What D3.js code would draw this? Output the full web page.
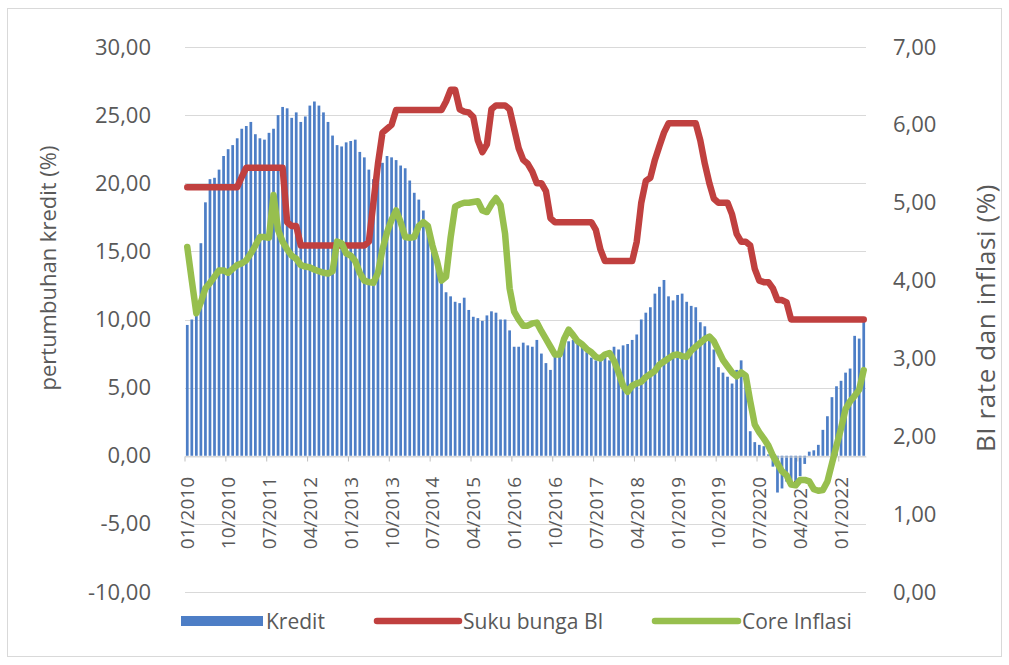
<!DOCTYPE html>
<html>
<head>
<meta charset="utf-8">
<script src="https://cdn.jsdelivr.net/npm/d3@7"></script>
<style>
  html, body { margin: 0; padding: 0; background: #ffffff; }
  svg { display: block; }
  text { font-family: "Open Sans", "Noto Sans", sans-serif; fill: #595959; }
</style>
</head>
<body>
<svg id="chart" width="1009" height="665"></svg>
<script>
// ---------------- DATA ----------------
const startYear = 2010;
const monthCount = 150; // 01/2010 .. 06/2022
const categories = [];
for (let k = 0; k < monthCount; k++) {
  const y = startYear + Math.floor(k / 12);
  const m = (k % 12) + 1;
  categories.push((m < 10 ? "0" + m : "" + m) + "/" + y);
}

// Pertumbuhan kredit (%), left axis
const kredit = [
  9.6, 10.0, 10.3, 15.6, 18.6, 20.3, 20.4, 21.0, 22.0, 22.5, 22.8, 23.3,   // 2010
  24.0, 24.2, 24.5, 23.6, 23.3, 23.2, 23.7, 24.0, 25.0, 25.6, 25.5, 24.8,  // 2011
  25.2, 24.5, 24.9, 25.7, 26.0, 25.7, 25.2, 24.5, 23.5, 22.8, 22.7, 23.0,  // 2012
  23.1, 23.2, 22.3, 21.9, 21.0, 20.3, 20.6, 21.5, 22.0, 21.9, 21.7, 21.3,  // 2013
  21.1, 20.2, 19.3, 18.8, 18.0, 16.5, 15.8, 14.5, 12.9, 12.0, 11.7, 11.3,  // 2014
  11.2, 11.6, 10.7, 10.2, 10.1, 9.9, 10.3, 10.6, 10.5, 10.0, 10.0, 9.2,    // 2015
  8.0, 8.0, 8.3, 8.1, 8.0, 8.5, 7.5, 6.8, 6.3, 7.4, 7.8, 8.2,              // 2016
  8.4, 8.5, 8.3, 8.0, 7.6, 7.2, 7.0, 7.1, 7.2, 7.0, 8.0, 7.8,              // 2017
  8.1, 8.2, 8.5, 8.9, 10.0, 10.5, 10.9, 11.9, 12.4, 12.9, 11.7, 11.4,      // 2018
  11.8, 11.9, 11.3, 11.0, 10.9, 9.8, 9.5, 8.7, 7.8, 6.5, 6.1, 5.8,         // 2019
  5.3, 6.3, 7.0, 5.7, 1.8, 1.0, 0.8, 0.7, 0.1, -0.8, -2.7, -2.4,           // 2020
  -1.9, -2.2, -2.0, -1.5, -0.6, 0.3, 0.4, 0.8, 1.9, 2.9, 4.3, 5.1,         // 2021
  5.5, 6.1, 6.4, 8.8, 8.6, 10.0                                            // 2022
];

// Suku bunga BI (%), right axis
const sukuBunga = [
  5.2, 5.2, 5.2, 5.2, 5.2, 5.2, 5.2, 5.2, 5.2, 5.2, 5.2, 5.2,
  5.33, 5.45, 5.45, 5.45, 5.45, 5.45, 5.45, 5.45, 5.45, 5.45, 4.75, 4.7,
  4.7, 4.45, 4.45, 4.45, 4.45, 4.45, 4.45, 4.45, 4.45, 4.45, 4.45, 4.45,
  4.45, 4.45, 4.45, 4.45, 4.5, 5.0, 5.5, 5.9, 5.95, 6.0, 6.19, 6.19,
  6.19, 6.19, 6.19, 6.19, 6.19, 6.19, 6.19, 6.19, 6.19, 6.3, 6.45, 6.45,
  6.2, 6.17, 6.16, 6.1, 5.8, 5.65, 5.75, 6.2, 6.25, 6.25, 6.25, 6.2,
  5.95, 5.7, 5.55, 5.5, 5.4, 5.25, 5.25, 5.15, 4.8, 4.75, 4.75, 4.75,
  4.75, 4.75, 4.75, 4.75, 4.75, 4.75, 4.65, 4.4, 4.25, 4.25, 4.25, 4.25,
  4.25, 4.25, 4.25, 4.5, 5.0, 5.28, 5.32, 5.55, 5.73, 5.9, 6.02, 6.02,
  6.02, 6.02, 6.02, 6.02, 6.02, 5.8, 5.5, 5.25, 5.05, 5.0, 5.0, 5.0,
  4.85, 4.6, 4.5, 4.5, 4.45, 4.15, 4.0, 3.98, 3.98, 3.9, 3.75, 3.75,
  3.72, 3.5, 3.5, 3.5, 3.5, 3.5, 3.5, 3.5, 3.5, 3.5, 3.5, 3.5,
  3.5, 3.5, 3.5, 3.5, 3.5, 3.5
];

// Core inflasi (%), right axis
const coreInflasi = [
  4.43, 4.0, 3.58, 3.72, 3.9, 3.97, 4.05, 4.13, 4.13, 4.1, 4.15, 4.2,
  4.22, 4.26, 4.35, 4.45, 4.56, 4.56, 4.55, 5.1, 4.65, 4.5, 4.4, 4.32,
  4.28, 4.2, 4.18, 4.17, 4.14, 4.12, 4.1, 4.09, 4.12, 4.5, 4.48, 4.35,
  4.32, 4.25, 4.1, 4.0, 3.98, 3.97, 4.1, 4.4, 4.62, 4.78, 4.9, 4.75,
  4.56, 4.55, 4.56, 4.7, 4.75, 4.7, 4.45, 4.25, 4.0, 4.05, 4.55, 4.95,
  4.98, 5.0, 5.0, 5.01, 5.02, 4.9, 4.88, 4.98, 5.06, 4.97, 4.6, 3.9,
  3.6, 3.5, 3.42, 3.42, 3.45, 3.46, 3.35, 3.25, 3.15, 3.05, 3.05, 3.25,
  3.37, 3.3, 3.22, 3.18, 3.12, 3.08, 3.02, 3.0, 3.05, 3.07, 2.97, 2.82,
  2.65, 2.57, 2.65, 2.68, 2.7, 2.76, 2.8, 2.84, 2.92, 2.96, 3.0, 3.04,
  3.05, 3.03, 3.02, 3.1, 3.15, 3.2, 3.25, 3.28, 3.22, 3.1, 2.98, 2.9,
  2.82, 2.77, 2.82, 2.78, 2.45, 2.15, 2.05, 1.97, 1.88, 1.75, 1.65, 1.55,
  1.5, 1.38, 1.37, 1.44, 1.44, 1.42, 1.32, 1.3, 1.31, 1.42, 1.65, 1.88,
  2.1, 2.35, 2.45, 2.52, 2.6, 2.85
];

const leftTicks = [-10, -5, 0, 5, 10, 15, 20, 25, 30];
const rightTicks = [0, 1, 2, 3, 4, 5, 6, 7];
const labelEvery = 9;
const seriesNames = ["Kredit", "Suku bunga BI", "Core Inflasi"];
const leftTitle = "pertumbuhan kredit (%)";
const rightTitle = "BI rate dan inflasi (%)";

// ---------------- CHART ----------------
const svg = d3.select("#chart");
const plot = { left: 185, right: 866, top: 47, bottom: 592 };
const colors = { bar: "#4d7ec6", red: "#c0403f", green: "#97bf4e", grid: "#d9d9d9", text: "#595959" };

const fmt = v => d3.format(".2f")(v).replace(".", ",").replace("\u2212", "-");

const x = d3.scaleBand().domain(categories).range([plot.left, plot.right])
  .paddingInner(0.4).paddingOuter(0.2);
const yL = d3.scaleLinear().domain([-10, 30]).range([plot.bottom, plot.top]);
const yR = d3.scaleLinear().domain([0, 7]).range([plot.bottom, plot.top]);
const cx = c => x(c) + x.bandwidth() / 2;

// outer frame
svg.append("rect").attr("x", 7.5).attr("y", 8.5).attr("width", 994).attr("height", 648)
  .attr("fill", "#fff").attr("stroke", "#d9d9d9").attr("stroke-width", 1);

// gridlines
svg.append("g").selectAll("line").data(leftTicks).join("line")
  .attr("x1", plot.left).attr("x2", plot.right)
  .attr("y1", d => Math.round(yL(d)) + 0.5).attr("y2", d => Math.round(yL(d)) + 0.5)
  .attr("stroke", colors.grid).attr("stroke-width", 1);

// bars
svg.append("g").selectAll("rect").data(kredit).join("rect")
  .attr("x", (d, i) => x(categories[i]))
  .attr("width", x.bandwidth())
  .attr("y", d => Math.min(yL(d), yL(0)))
  .attr("height", d => Math.abs(yL(d) - yL(0)))
  .attr("fill", colors.bar);

// category axis at zero
const labelCats = categories.filter((c, i) => i % labelEvery === 0);
const xAxis = d3.axisBottom(x).tickValues(labelCats).tickSize(0).tickFormat("");
const gx = svg.append("g").attr("transform", `translate(0,${Math.round(yL(0)) + 0.5})`).call(xAxis);
gx.select(".domain").attr("stroke", colors.grid);
gx.selectAll(".bnd").data(labelCats).join("line")
  .attr("class", "bnd")
  .attr("x1", c => x(c) - x.step() * x.paddingInner() / 2)
  .attr("x2", c => x(c) - x.step() * x.paddingInner() / 2)
  .attr("y1", 0).attr("y2", 5).attr("stroke", "#bfbfbf");

// category labels (low position)
svg.append("g").selectAll("text").data(labelCats).join("text")
  .attr("transform", c => `translate(${cx(c)},477) rotate(-90)`)
  .attr("text-anchor", "end").attr("dominant-baseline", "central")
  .style("font-size", "19px").text(c => c);

// lines
const lineR = d3.line().x((d, i) => cx(categories[i])).y(d => yR(d)).curve(d3.curveLinear);
svg.append("path").datum(sukuBunga).attr("d", lineR)
  .attr("fill", "none").attr("stroke", colors.red).attr("stroke-width", 6.5)
  .attr("stroke-linejoin", "round").attr("stroke-linecap", "round");
svg.append("path").datum(coreInflasi).attr("d", lineR)
  .attr("fill", "none").attr("stroke", colors.green).attr("stroke-width", 6.5)
  .attr("stroke-linejoin", "round").attr("stroke-linecap", "round");

// left axis labels
const axL = d3.axisLeft(yL).tickValues(leftTicks).tickSize(0).tickPadding(34).tickFormat(fmt);
const gL = svg.append("g").attr("transform", `translate(${plot.left},0)`).call(axL);
gL.select(".domain").remove();
gL.selectAll("text").style("font-size", "22px").attr("fill", colors.text)
  .style("font-family", '"Open Sans", sans-serif');

// right axis labels
const axR = d3.axisRight(yR).tickValues(rightTicks).tickSize(0).tickPadding(27).tickFormat(fmt);
const gR = svg.append("g").attr("transform", `translate(${plot.right},0)`).call(axR);
gR.select(".domain").remove();
gR.selectAll("text").style("font-size", "22px").attr("fill", colors.text)
  .style("font-family", '"Open Sans", sans-serif');

// axis titles
svg.append("text").attr("transform", `translate(47,268) rotate(-90)`)
  .attr("text-anchor", "middle").attr("dominant-baseline", "central")
  .style("font-size", "22px").text(leftTitle);
svg.append("text").attr("transform", `translate(985,318) rotate(-90)`)
  .attr("text-anchor", "middle").attr("dominant-baseline", "central")
  .style("font-size", "26px").style("letter-spacing", "0.6px").text(rightTitle);

// legend
const lg = svg.append("g");
const ly = 621;
lg.append("rect").attr("x", 181).attr("y", ly - 5).attr("width", 82).attr("height", 10).attr("fill", colors.bar);
lg.append("text").attr("x", 266).attr("y", ly).attr("dominant-baseline", "central").style("font-size", "21px").text(seriesNames[0]);
lg.append("line").attr("x1", 377).attr("x2", 459).attr("y1", ly).attr("y2", ly)
  .attr("stroke", colors.red).attr("stroke-width", 6.5).attr("stroke-linecap", "round");
lg.append("text").attr("x", 463).attr("y", ly).attr("dominant-baseline", "central").style("font-size", "21px").text(seriesNames[1]);
lg.append("line").attr("x1", 655).attr("x2", 738).attr("y1", ly).attr("y2", ly)
  .attr("stroke", colors.green).attr("stroke-width", 6.5).attr("stroke-linecap", "round");
lg.append("text").attr("x", 742).attr("y", ly).attr("dominant-baseline", "central").style("font-size", "21px").text(seriesNames[2]);
</script>
</body>
</html>
